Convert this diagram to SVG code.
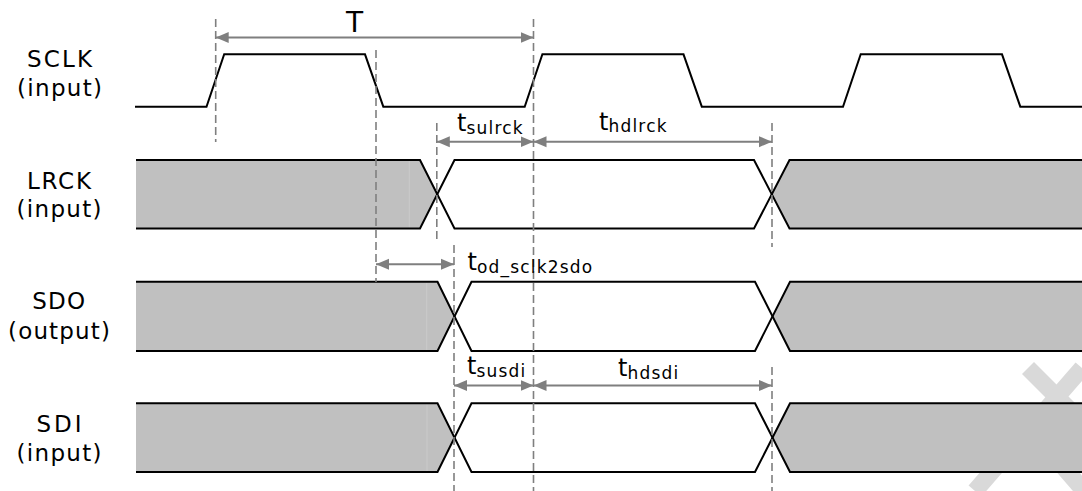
<svg xmlns="http://www.w3.org/2000/svg" width="1082" height="491" viewBox="0 0 1082 491">
<style>
.lbl{font-family:"DejaVu Sans",Verdana,sans-serif;font-size:23px;fill:#000;text-anchor:middle}
.tm{font-family:"DejaVu Sans",Verdana,sans-serif;font-size:24px;fill:#000}
.sub{font-size:17px;letter-spacing:1.2px}
.sig{fill:none;stroke:#000;stroke-width:2;stroke-linejoin:miter}
.gray{fill:#c0c0c0;stroke:none}
.seam{stroke:#cacaca;stroke-width:1}
.dash{stroke:#7f7f7f;stroke-width:1.6;stroke-dasharray:8 4;fill:none}
.dim{stroke:#7f7f7f;stroke-width:2;fill:none;marker-start:url(#ah);marker-end:url(#ah)}
.wm{stroke:#d9d9d9;stroke-width:17;fill:none}
</style>
<defs>
<marker id="ah" markerUnits="userSpaceOnUse" markerWidth="14" markerHeight="12" viewBox="0 0 14 12" refX="13" refY="6" orient="auto-start-reverse">
<path d="M0,0.5 L13,6 L0,11.5 Z" fill="#7f7f7f"/>
</marker>
</defs>
<rect width="1082" height="491" fill="#fff"/>
<g id="watermark">
<line class="wm" x1="1028" y1="368" x2="1070" y2="410"/>
<line class="wm" x1="1082" y1="368" x2="975" y2="491"/>
<line class="wm" x1="1040" y1="440" x2="1092" y2="500"/>
</g>
<g id="labels">
<text class="lbl" x="59.5" y="66.7" textLength="65" lengthAdjust="spacing">SCLK</text>
<text class="lbl" x="59.5" y="95.7" textLength="85" lengthAdjust="spacing">(input)</text>
<text class="lbl" x="59" y="189" textLength="64" lengthAdjust="spacing">LRCK</text>
<text class="lbl" x="59" y="217" textLength="85" lengthAdjust="spacing">(input)</text>
<text class="lbl" x="58.7" y="309.3" textLength="53" lengthAdjust="spacing">SDO</text>
<text class="lbl" x="59" y="339" textLength="102" lengthAdjust="spacing">(output)</text>
<text class="lbl" x="59" y="432.3" textLength="45" lengthAdjust="spacing">SDI</text>
<text class="lbl" x="59" y="460.5" textLength="85" lengthAdjust="spacing">(input)</text>
</g>
<g id="SCLK">
<polyline class="sig" points="135,106.7 206.5,106.7 224.2,54.3 365,54.3 383.3,106.7 524.7,106.7 542.4,54.3 683.5,54.3 701.8,106.7 843,106.7 860.7,54.3 1002,54.3 1020.3,106.7 1082,106.7"/>
</g>
<g id="LRCK">
<polygon class="gray" points="136,160 420,160 437,194.2 420,228.5 136,228.5"/>
<polygon class="gray" points="772,194.2 789.5,160 1082,160 1082,228.5 789.5,228.5"/>
<line class="seam" x1="409.3" y1="161" x2="409.3" y2="227.5"/>
<polyline class="sig" points="136,160 420,160 454.5,228.5 754,228.5 789.5,160 1082,160"/>
<polyline class="sig" points="136,228.5 420,228.5 454.5,160 754,160 789.5,228.5 1082,228.5"/>
</g>
<g id="SDO">
<polygon class="gray" points="136,281.7 437.5,281.7 454.5,316.4 437.5,351 136,351"/>
<polygon class="gray" points="772.5,316.4 790,281.7 1082,281.7 1082,351 790,351"/>
<line class="seam" x1="426.7" y1="282.7" x2="426.7" y2="350"/>
<polyline class="sig" points="136,281.7 437.5,281.7 471.5,351 755,351 790,281.7 1082,281.7"/>
<polyline class="sig" points="136,351 437.5,351 471.5,281.7 755,281.7 790,351 1082,351"/>
</g>
<g id="SDI">
<polygon class="gray" points="136,403.3 437.5,403.3 454.5,437.7 437.5,472 136,472"/>
<polygon class="gray" points="772.5,437.7 790,403.3 1082,403.3 1082,472 790,472"/>
<line class="seam" x1="427" y1="404.3" x2="427" y2="471"/>
<polyline class="sig" points="136,403.3 437.5,403.3 471.5,472 755,472 790,403.3 1082,403.3"/>
<polyline class="sig" points="136,472 437.5,472 471.5,403.3 755,403.3 790,472 1082,472"/>
</g>
<g id="connectors">
<line class="dash" x1="215.7" y1="19" x2="215.7" y2="142"/>
<line class="dash" x1="376" y1="50" x2="376" y2="282"/>
<line class="dash" x1="533.5" y1="19" x2="533.5" y2="491"/>
<line class="dash" x1="436.8" y1="123" x2="436.8" y2="240"/>
<line class="dash" x1="454" y1="245" x2="454" y2="491"/>
<line class="dash" x1="772" y1="123" x2="772" y2="247"/>
<line class="dash" x1="772" y1="367" x2="772" y2="491"/>
<line class="dim" x1="215.7" y1="37.5" x2="533.5" y2="37.5"/>
<line class="dim" x1="436.8" y1="141.7" x2="533.5" y2="141.7"/>
<line class="dim" x1="533.5" y1="141.7" x2="772" y2="141.7"/>
<line class="dim" x1="376" y1="264.3" x2="454" y2="264.3"/>
<line class="dim" x1="454" y1="385.5" x2="533.5" y2="385.5"/>
<line class="dim" x1="533.5" y1="385.5" x2="772" y2="385.5"/>
</g>
<g id="timing-labels">
<text class="tm" x="346" y="31.7" style="font-size:28px">T</text>
<text class="tm" x="457" y="131">t<tspan class="sub" dy="2.5">sulrck</tspan></text>
<text class="tm" x="599" y="129.5">t<tspan class="sub" dy="2.5">hdlrck</tspan></text>
<text class="tm" x="467.5" y="270">t<tspan class="sub" dy="2.5">od_sclk2sdo</tspan></text>
<text class="tm" x="467" y="374">t<tspan class="sub" dy="2.5">susdi</tspan></text>
<text class="tm" x="618" y="376">t<tspan class="sub" dy="2.5">hdsdi</tspan></text>
</g>
</svg>
